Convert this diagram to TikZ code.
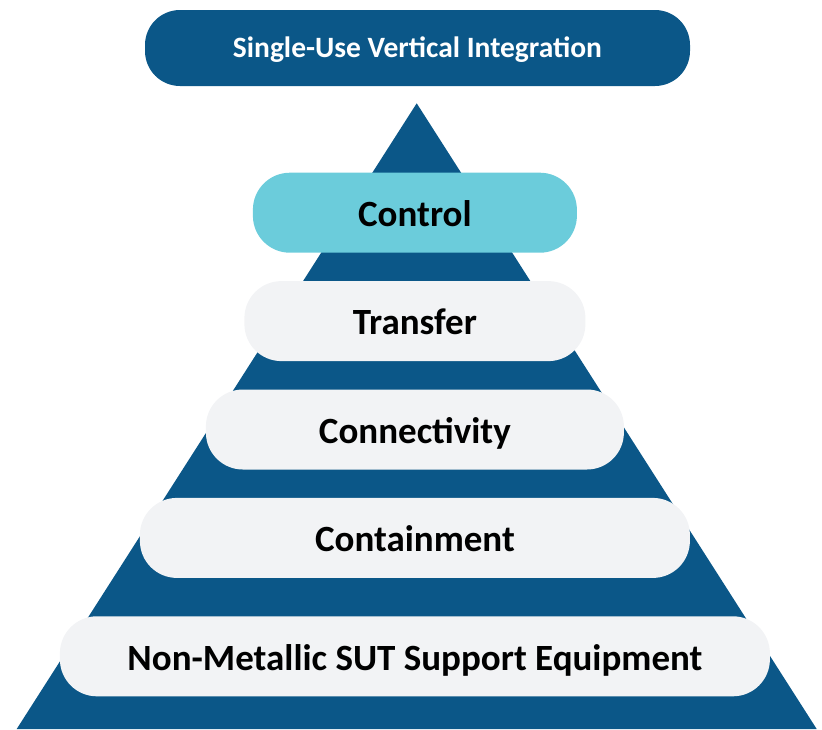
\documentclass[tikz,border=0pt]{standalone}
\usepackage{fontspec}
\setmainfont{Carlito}
\usepackage{tikz}
\usetikzlibrary{positioning}
\definecolor{pyramidblue}{HTML}{0B5788}
\definecolor{controlcyan}{HTML}{6BCCDB}
\definecolor{layergray}{HTML}{F2F3F5}
\tikzstyle{layer} = [fill=layergray, rounded corners=37pt, minimum height=80pt, inner sep=0pt, font=\fontsize{37}{41}\selectfont\bfseries, text=black, text height=27.5pt, text depth=0pt]
\tikzstyle{heading} = [fill=pyramidblue, rounded corners=35pt, minimum height=76pt, minimum width=545pt, inner sep=0pt, font=\fontsize{29.5}{33}\selectfont\bfseries, text=white, text height=19pt, text depth=0pt]

\begin{document}
\begin{tikzpicture}[x=1pt, y=-1pt, node distance = 28pt]
		\useasboundingbox (0,0) rectangle (822,729);
		% Pyramid
		\coordinate (apex) at (416.7,103.3);
		\coordinate (baseR) at (816.7,729);
		\coordinate (baseL) at (16.7,729);
		\fill[pyramidblue] (apex) -- (baseR) -- (baseL) -- cycle;
		% Nodes
		\node[heading] (top) at (417.5,48) {Single-Use Vertical Integration};
		\node[layer] (control) at (414.9,212.7) [fill=controlcyan, minimum width=324pt] {Control};
		\node[layer] (transfer) [below=of control] [minimum width=341pt] {Transfer};
		\node[layer] (connect) [below=of transfer] [minimum width=418pt] {Connectivity};
		\node[layer] (contain) [below=of connect] [minimum width=550pt] {Containment};
		\node[layer] (support) [below=38pt of contain] [minimum width=710pt] {Non-Metallic SUT Support Equipment};
	\end{tikzpicture}
\end{document}
